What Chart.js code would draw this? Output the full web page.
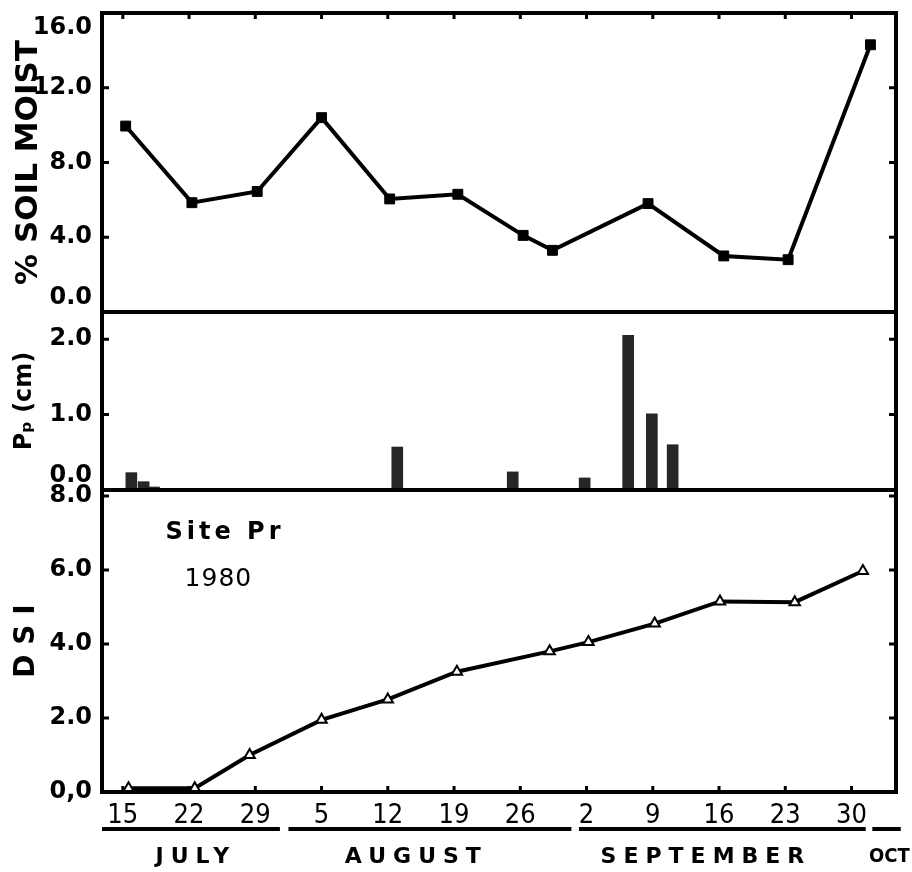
<!DOCTYPE html>
<html>
<head>
<meta charset="utf-8">
<script src="https://cdn.jsdelivr.net/npm/chart.js@4.4.1/dist/chart.umd.min.js"></script>
<style>
  html, body { margin: 0; padding: 0; background: #fff; }
  #wrap { width: 912px; height: 872px; }
</style>
</head>
<body>
<div id="wrap"><canvas id="chart" width="912" height="872"></canvas></div>
<script>
// day numbers counted from July 1 (Aug 1 = 32, Sep 1 = 63, Oct 1 = 93)
const tickDays = [15, 22, 29, 36, 43, 50, 57, 64, 71, 78, 85, 92];
const tickLabels = ["15", "22", "29", "5", "12", "19", "26", "2", "9", "16", "23", "30"];
const months = ["JULY", "AUGUST", "SEPTEMBER", "OCT"];
const monthFrom = [12.8, 32.5, 63.2, 94.2];
const monthTo = [31.6, 62.4, 93.5, 97.2];
const monthMid = [22.4, 45.7, 76.3, 96.0];

// % soil moisture
const soilDays = [15.3, 22.3, 29.2, 36.0, 43.2, 50.4, 57.3, 60.4, 70.5, 78.5, 85.3, 94.0];
const soilValues = [9.95, 5.85, 6.45, 10.4, 6.05, 6.3, 4.1, 3.3, 5.8, 3.0, 2.8, 14.3];

// precipitation (cm)
const rainDays = [15.9, 17.2, 18.3, 44.0, 56.2, 63.8, 68.4, 70.9, 73.1];
const rainValues = [0.23, 0.11, 0.04, 0.57, 0.24, 0.16, 2.05, 1.01, 0.6];

// DSI
const dsiDays = [15.6, 22.6, 28.4, 36.0, 43.0, 50.3, 60.1, 64.2, 71.2, 78.1, 86.0, 93.2];
const dsiValues = [0.1, 0.1, 1.0, 1.95, 2.5, 3.25, 3.8, 4.05, 4.55, 5.15, 5.13, 5.97];

const soilTicks = [0, 4, 8, 12, 16];
const soilLabels = ["0.0", "4.0", "8.0", "12.0", "16.0"];
const rainTicks = [0, 1, 2];
const rainLabels = ["0.0", "1.0", "2.0"];
const dsiTicks = [0, 2, 4, 6, 8];
const dsiLabels = ["0,0", "2.0", "4.0", "6.0", "8.0"];

const siteText = "Site Pr";
const yearText = "1980";

const tickFont = { family: "DejaVu Sans", size: 24, weight: "bold" };

function fixedTicks(values) {
  return function (scale) {
    scale.ticks = values.map(v => ({ value: v }));
  };
}

// labels that sit on a panel edge are pushed inside it (as in the original)
function pushUp(s) { return [s, ""]; }
function pushDown(s) { return ["", s]; }

const framePlugin = {
  id: "frame",
  afterDraw(chart) {
    const ctx = chart.ctx;
    const area = chart.chartArea;
    const x = chart.scales.x;
    const panels = [chart.scales.ySoil, chart.scales.yPp, chart.scales.yDsi];
    ctx.save();
    ctx.strokeStyle = "#000";
    ctx.lineWidth = 4;
    ctx.strokeRect(area.left, area.top, area.right - area.left, area.bottom - area.top);
    ctx.beginPath();
    panels.slice(1).forEach(s => {
      ctx.moveTo(area.left, s.top);
      ctx.lineTo(area.right, s.top);
    });
    ctx.stroke();

    // small inward tick marks
    ctx.lineWidth = 3;
    ctx.beginPath();
    panels.forEach(s => {
      s.ticks.forEach(t => {
        const py = s.getPixelForValue(t.value);
        if (py < s.top + 5 || py > s.bottom - 5) return;
        ctx.moveTo(area.left, py); ctx.lineTo(area.left + 7, py);
        ctx.moveTo(area.right, py); ctx.lineTo(area.right - 7, py);
      });
    });
    x.ticks.forEach(t => {
      const px = x.getPixelForValue(t.value);
      ctx.moveTo(px, area.top); ctx.lineTo(px, area.top + 6);
      ctx.moveTo(px, area.bottom); ctx.lineTo(px, area.bottom - 6);
    });
    ctx.stroke();

    // month underlines and names
    ctx.lineWidth = 4;
    ctx.beginPath();
    months.forEach((m, i) => {
      ctx.moveTo(x.getPixelForValue(monthFrom[i]), area.bottom + 37);
      ctx.lineTo(x.getPixelForValue(monthTo[i]), area.bottom + 37);
    });
    ctx.stroke();
    ctx.fillStyle = "#000";
    ctx.textAlign = "center";
    ctx.textBaseline = "middle";
    months.forEach((m, i) => {
      const last = i === months.length - 1;
      ctx.font = last ? "bold 20px 'DejaVu Sans Condensed', 'DejaVu Sans'" : "bold 22px 'DejaVu Sans'";
      if ("letterSpacing" in ctx) ctx.letterSpacing = last ? "0px" : "7px";
      ctx.fillText(m, x.getPixelForValue(monthMid[i]) + (last ? 0 : 3), area.bottom + 65);
    });

    // site note
    const yd = chart.scales.yDsi;
    ctx.font = "bold 24px 'DejaVu Sans'";
    if ("letterSpacing" in ctx) ctx.letterSpacing = "4px";
    ctx.fillText(siteText, x.getPixelForValue(25.8), yd.getPixelForValue(7.0));
    ctx.font = "25px 'DejaVu Sans'";
    if ("letterSpacing" in ctx) ctx.letterSpacing = "1px";
    ctx.fillText(yearText, x.getPixelForValue(25.1), yd.getPixelForValue(5.73));
    ctx.restore();
  }
};

function yAxis(ticks, labels, min, max, weight, title, titleSize, edgeFix) {
  return {
    type: "linear",
    position: "left",
    stack: "panels",
    stackWeight: weight,
    min: min,
    max: max,
    afterBuildTicks: fixedTicks(ticks),
    afterFit: s => {
      s.width = 102;
      s.paddingTop = 0;
      s.paddingBottom = 0;
    },
    grid: { display: false, drawTicks: false },
    border: { display: false },
    ticks: {
      color: "#000",
      font: tickFont,
      padding: 10,
      autoSkip: false,
      callback: (v, i) => edgeFix(labels[i], i)
    },
    title: {
      display: true,
      text: title,
      color: "#000",
      font: { family: "DejaVu Sans", size: titleSize, weight: "bold" },
      padding: { top: 10, bottom: 0 }
    }
  };
}

new Chart(document.getElementById("chart"), {
  type: "line",
  data: {
    datasets: [
      {
        label: "DSI",
        yAxisID: "yDsi",
        data: dsiDays.map((d, i) => ({ x: d, y: dsiValues[i] })),
        borderColor: "#000",
        borderWidth: 4,
        tension: 0,
        pointStyle: "triangle",
        pointRadius: 6,
        pointBackgroundColor: "#fff",
        pointBorderColor: "#000",
        pointBorderWidth: 2
      },
      {
        label: "Pp",
        type: "bar",
        yAxisID: "yPp",
        data: rainDays.map((d, i) => ({ x: d, y: rainValues[i] })),
        backgroundColor: "#262626",
        barThickness: 11
      },
      {
        label: "Soil moisture",
        yAxisID: "ySoil",
        data: soilDays.map((d, i) => ({ x: d, y: soilValues[i] })),
        borderColor: "#000",
        borderWidth: 4,
        tension: 0,
        pointStyle: "rect",
        pointRadius: 7,
        pointBackgroundColor: "#000",
        pointBorderColor: "#000",
        pointBorderWidth: 1
      }
    ]
  },
  options: {
    responsive: false,
    animation: false,
    layout: { padding: { top: 13, right: 16, left: 0, bottom: 0 } },
    plugins: { legend: { display: false }, tooltip: { enabled: false } },
    scales: {
      x: {
        type: "linear",
        min: 12.8,
        max: 96.7,
        offset: false,
        afterBuildTicks: fixedTicks(tickDays),
        afterFit: s => {
          s.height = 80;
          s.paddingLeft = 0;
          s.paddingRight = 0;
        },
        grid: { display: false, drawTicks: false },
        border: { display: false },
        ticks: {
          color: "#000",
          font: { family: "'Liberation Sans Narrow', 'DejaVu Sans Condensed', sans-serif", size: 27 },
          padding: 8,
          autoSkip: false,
          maxRotation: 0,
          callback: (v, i) => tickLabels[i]
        }
      },
      // the last stacked axis is placed at the top
      yDsi: yAxis(dsiTicks, dsiLabels, 0, 8.16, 302, "D S I", 28, s => s),
      yPp: yAxis(rainTicks, rainLabels, 0, 2.36, 178, "Pₚ (cm)", 24, (s, i) => i === 0 ? pushUp(s) : s),
      ySoil: yAxis(soilTicks, soilLabels, 0, 16, 299, "% SOIL MOIST", 31,
        (s, i) => i === 0 ? pushUp(s) : (i === 4 ? pushDown(s) : s))
    }
  },
  plugins: [framePlugin]
});
</script>
</body>
</html>
